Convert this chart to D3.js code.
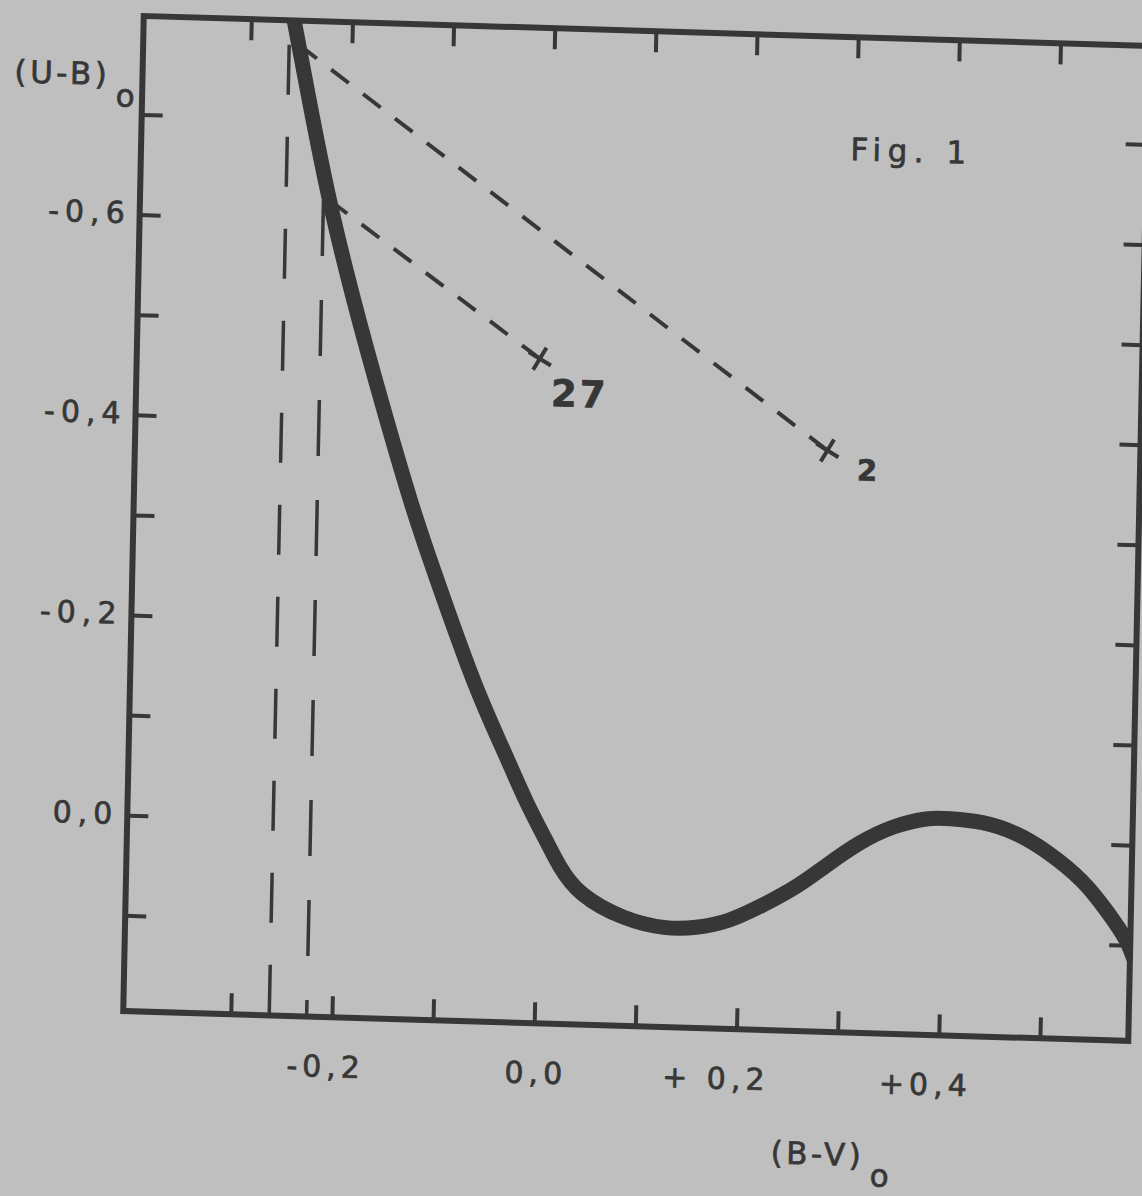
<!DOCTYPE html>
<html>
<head>
<meta charset="utf-8">
<script src="https://cdn.jsdelivr.net/npm/d3@7"></script>
<style>
  html, body { margin: 0; padding: 0; background: #bfbfbf; }
  svg { display: block; }
</style>
</head>
<body>
<div id="chart"></div>
<script>
// intrinsic sequence, (U-B)o against (B-V)o
const seqBV = [-0.259, -0.241, -0.219, -0.193, -0.164, -0.133, -0.105, -0.067, -0.036, -0.013,
  0.007, 0.022, 0.045, 0.086, 0.126, 0.158, 0.190, 0.223, 0.255, 0.286,
  0.318, 0.351, 0.383, 0.407, 0.439, 0.472, 0.504, 0.538, 0.563, 0.583, 0.594];
const seqUB = [-0.805, -0.719, -0.620, -0.521, -0.422, -0.323, -0.244, -0.145, -0.076, -0.027,
  0.011, 0.038, 0.065, 0.087, 0.096, 0.095, 0.087, 0.071, 0.052, 0.029,
  0.006, -0.011, -0.020, -0.021, -0.018, -0.008, 0.010, 0.037, 0.066, 0.095, 0.122];

// observed stars and where their reddening lines meet the sequence
const starNames = ["27", "2"];
const starBV = [-0.008, 0.278];
const starUB = [-0.468, -0.385];
const meetBV = [-0.219, -0.252];
const meetUB = [-0.620, -0.774];

// vertical cut lines dropped to the (B-V) axis
const cutBV = [-0.262, -0.225];
const cutTopUB = [-0.774, -0.620];

const xTicks = [-0.3, -0.2, -0.1, 0.0, 0.1, 0.2, 0.3, 0.4, 0.5];
const yTicks = [-0.7, -0.6, -0.5, -0.4, -0.3, -0.2, -0.1, 0.0, 0.1];
const xLabelValues = [-0.2, 0.0, 0.2, 0.4];
const xTickLabels = ["-0,2", "0,0", "+ 0,2", "+0,4"];
const yLabelValues = [-0.6, -0.4, -0.2, 0.0];
const yTickLabels = ["-0,6", "-0,4", "-0,2", "0,0"];

const fullWidth = 1142;
const fullHeight = 1196;
const width = 1005;
const height = 995;
const ink = "#373737";
const font = "'DejaVu Sans', sans-serif";

const svg = d3.select("#chart")
  .append("svg")
  .attr("width", fullWidth)
  .attr("height", fullHeight);

svg.append("rect")
  .attr("width", fullWidth)
  .attr("height", fullHeight)
  .attr("fill", "#bfbfbf");

svg.append("defs")
  .append("clipPath")
  .attr("id", "plot-clip")
  .append("rect")
  .attr("width", width)
  .attr("height", height);

// the photographed page is a little skewed, keep that with one affine transform
const g = svg.append("g")
  .attr("transform", "matrix(1, 0.0298, -0.0206, 1, 143.75, 16)");

const x = d3.scaleLinear()
  .domain([-0.4063, 0.5873])
  .range([0, width]);

const y = d3.scaleLinear()
  .domain([-0.7984, 0.1956])
  .range([0, height]);

// inward ticks on all four sides
const tickLen = 21;
[
  [d3.axisTop(x).tickValues(xTicks), "translate(0,0)"],
  [d3.axisBottom(x).tickValues(xTicks), `translate(0,${height})`],
  [d3.axisLeft(y).tickValues(yTicks), "translate(0,0)"],
  [d3.axisRight(y).tickValues(yTicks), `translate(${width},0)`]
].forEach(([axis, pos]) => {
  const a = g.append("g")
    .attr("transform", pos)
    .attr("color", ink)
    .call(axis.tickSize(-tickLen).tickSizeOuter(0).tickFormat(() => ""));
  a.select(".domain").remove();
  a.selectAll("line").attr("stroke-width", 4);
});

g.append("rect")
  .attr("width", width)
  .attr("height", height)
  .attr("fill", "none")
  .attr("stroke", ink)
  .attr("stroke-width", 6);

// long dashed verticals
const cutDash = ["50,42", "56,44"];
g.selectAll(".cut")
  .data(cutBV)
  .join("line")
  .attr("class", "cut")
  .attr("x1", d => x(d))
  .attr("x2", d => x(d))
  .attr("y1", (d, i) => y(cutTopUB[i]))
  .attr("y2", height)
  .attr("stroke", ink)
  .attr("stroke-width", 3.5)
  .attr("stroke-dasharray", (d, i) => cutDash[i]);

// reddening lines
g.selectAll(".redden")
  .data(starNames)
  .join("line")
  .attr("class", "redden")
  .attr("x1", (d, i) => x(meetBV[i]))
  .attr("y1", (d, i) => y(meetUB[i]))
  .attr("x2", (d, i) => x(starBV[i]))
  .attr("y2", (d, i) => y(starUB[i]))
  .attr("stroke", ink)
  .attr("stroke-width", 4)
  .attr("stroke-dasharray", "22,18");

const line = d3.line()
  .x(d => x(d[0]))
  .y(d => y(d[1]))
  .curve(d3.curveNatural);

g.append("path")
  .datum(d3.zip(seqBV, seqUB))
  .attr("d", line)
  .attr("clip-path", "url(#plot-clip)")
  .attr("fill", "none")
  .attr("stroke", ink)
  .attr("stroke-width", 15)
  .attr("stroke-linecap", "round")
  .attr("stroke-linejoin", "round");

g.selectAll(".star")
  .data(starNames)
  .join("path")
  .attr("class", "star")
  .attr("transform", (d, i) => `translate(${x(starBV[i])},${y(starUB[i])}) rotate(30)`)
  .attr("d", d3.symbol(d3.symbolPlus, 220))
  .attr("fill", "none")
  .attr("stroke", ink)
  .attr("stroke-width", 4);

// typed text: a thin outline thickens the strokes like the typewriter ribbon
function typed(sel, size, spacing) {
  return sel
    .attr("font-family", font)
    .attr("font-size", size)
    .attr("letter-spacing", spacing)
    .attr("fill", ink)
    .attr("stroke", ink)
    .attr("stroke-width", 0.7);
}

const starLabelStyle = {
  "27": { dx: 12, dy: 47, size: 37 },
  "2": { dx: 30, dy: 29, size: 29 }
};

g.selectAll(".star-label")
  .data(starNames)
  .join("text")
  .attr("class", "star-label")
  .attr("x", (d, i) => x(starBV[i]) + starLabelStyle[d].dx)
  .attr("y", (d, i) => y(starUB[i]) + starLabelStyle[d].dy)
  .call(typed, 30, 3)
  .attr("font-size", d => starLabelStyle[d].size)
  .attr("font-weight", "bold")
  .text(d => d);

g.selectAll(".xlab")
  .data(xLabelValues)
  .join("text")
  .attr("class", "xlab")
  .attr("x", d => x(d))
  .attr("y", height + 60)
  .attr("dx", 34)
  .attr("text-anchor", "end")
  .call(typed, 30, 5)
  .text((d, i) => xTickLabels[i]);

g.selectAll(".ylab")
  .data(yLabelValues)
  .join("text")
  .attr("class", "ylab")
  .attr("x", -9)
  .attr("y", d => y(d))
  .attr("dy", "0.3em")
  .attr("text-anchor", "end")
  .call(typed, 30, 6)
  .text((d, i) => yTickLabels[i]);

const yTitle = g.append("text")
  .attr("x", -128)
  .attr("y", 70)
  .call(typed, 31, 3.5);
yTitle.append("tspan").text("(U-B)");
yTitle.append("tspan").attr("dx", 6).attr("dy", 21).text("o");

const xTitle = g.append("text")
  .attr("x", 650)
  .attr("y", height + 133)
  .call(typed, 31, 3.5);
xTitle.append("tspan").text("(B-V)");
xTitle.append("tspan").attr("dx", 6).attr("dy", 20).text("o");

g.append("text")
  .attr("x", 709)
  .attr("y", 123)
  .call(typed, 31, 6.5)
  .text("Fig. 1");
</script>
</body>
</html>
